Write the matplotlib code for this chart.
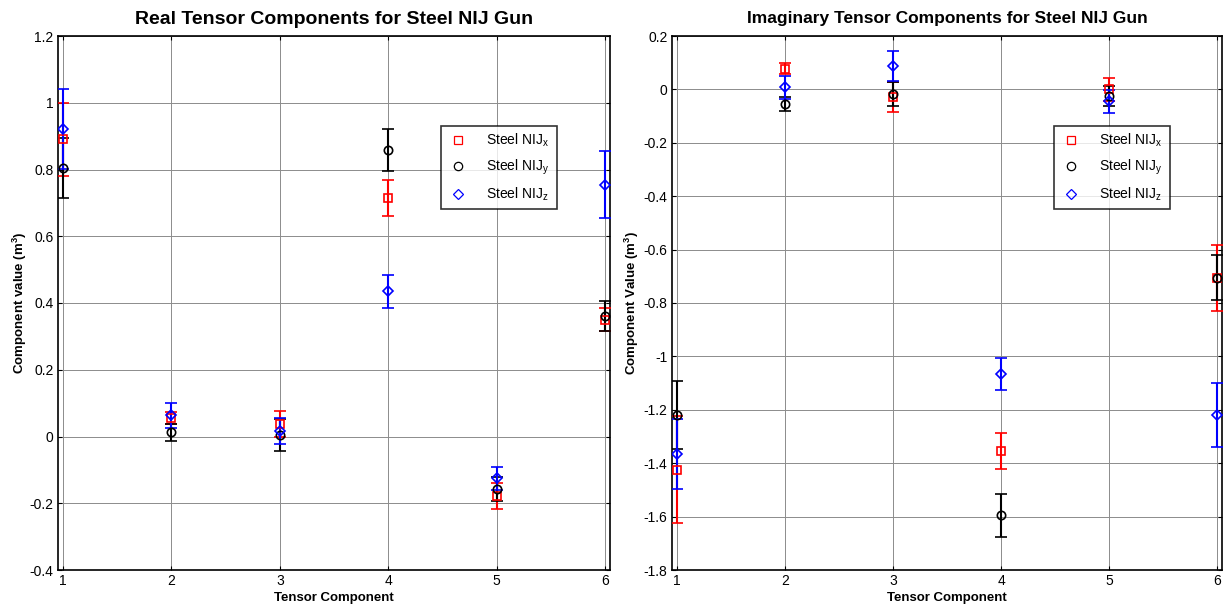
import matplotlib
matplotlib.use("Agg")
import matplotlib.pyplot as plt
from matplotlib.ticker import FuncFormatter
from matplotlib.lines import Line2D

plt.rcParams['font.family'] = ['Liberation Sans', 'DejaVu Sans']
plt.rcParams['mathtext.default'] = 'regular'

components = [1, 2, 3, 4, 5, 6]

# Real parts
real_x = [0.89, 0.055, 0.037, 0.715, -0.178, 0.35]
real_x_err = [0.11, 0.017, 0.038, 0.054, 0.039, 0.035]
real_y = [0.805, 0.012, 0.005, 0.858, -0.157, 0.36]
real_y_err = [0.09, 0.024, 0.047, 0.062, 0.037, 0.045]
real_z = [0.922, 0.063, 0.017, 0.435, -0.125, 0.755]
real_z_err = [0.12, 0.038, 0.038, 0.05, 0.035, 0.10]

# Imaginary parts
imag_x = [-1.425, 0.078, -0.028, -1.355, 0.0, -0.707]
imag_x_err = [0.20, 0.022, 0.057, 0.068, 0.042, 0.123]
imag_y = [-1.22, -0.055, -0.018, -1.595, -0.024, -0.705]
imag_y_err = [0.127, 0.027, 0.044, 0.081, 0.037, 0.083]
imag_z = [-1.365, 0.008, 0.088, -1.065, -0.045, -1.22]
imag_z_err = [0.13, 0.043, 0.056, 0.06, 0.043, 0.12]

labels = ['Steel NIJ$_x$', 'Steel NIJ$_y$', 'Steel NIJ$_z$']

fig = plt.figure(figsize=(12.29, 6.10), dpi=100)
ax1 = fig.add_axes([57.6 / 1229, 1 - 570 / 610, 552.8 / 1229, 534 / 610])
ax2 = fig.add_axes([671.6 / 1229, 1 - 570 / 610, 550.8 / 1229, 534 / 610])

fmt = FuncFormatter(lambda v, p: '%g' % round(v, 6))


def draw(ax, xs, series, title, title_size, ylabel, ylabelpad, ylim, yticks):
    styles = [('s', 'red'), ('o', 'black'), ('D', 'blue')]
    for (vals, errs), (mk, col), lab in zip(series, styles, labels):
        ms = 5 if mk == 'D' else 6
        ax.errorbar(xs, vals, yerr=errs, fmt=mk, mfc='none', mec=col,
                    ecolor=col, color=col, ms=ms, mew=1.2,
                    elinewidth=1.5, capsize=4, capthick=1.5,
                    label=lab, zorder=3)
    ax.set_xlim(0.95, 6.05)
    ax.set_ylim(*ylim)
    ax.set_xticks(xs)
    ax.set_yticks(yticks)
    ax.yaxis.set_major_formatter(fmt)
    ax.grid(True, color='0.55', lw=0.7)
    ax.set_axisbelow(True)
    ax.tick_params(direction='in', length=3, top=True, right=True,
                   labelsize=10, width=0.8, pad=3)
    for s in ax.spines.values():
        s.set_linewidth(1.2)
    ax.set_title(title, fontsize=title_size, fontweight='bold', pad=9)
    ax.set_xlabel('Tensor Component', fontsize=9.5, fontweight='bold', labelpad=3)
    ax.set_ylabel(ylabel, fontsize=9.5, fontweight='bold', labelpad=ylabelpad)
    lh = [Line2D([], [], ls='none', marker=mk, mfc='none', mec=col,
                 ms=(5 if mk == 'D' else 6), mew=0.9)
          for mk, col in styles]
    leg = ax.legend(lh, labels, loc='lower left',
                    bbox_to_anchor=(0.694, 0.676, 0.21, 0.152), mode='expand',
                    fontsize=10, frameon=True, fancybox=False,
                    edgecolor='black', borderpad=0.45, labelspacing=0.6,
                    handlelength=1.5, handletextpad=1.3, borderaxespad=0)
    leg.get_frame().set_linewidth(1.2)


draw(ax1, components,
     [(real_x, real_x_err), (real_y, real_y_err), (real_z, real_z_err)],
     'Real Tensor Components for Steel NIJ Gun', 14, 'Component value (m$^3$)', 0,
     (-0.4, 1.2), [-0.4, -0.2, 0, 0.2, 0.4, 0.6, 0.8, 1.0, 1.2])
draw(ax2, components,
     [(imag_x, imag_x_err), (imag_y, imag_y_err), (imag_z, imag_z_err)],
     'Imaginary Tensor Components for Steel NIJ Gun', 12.5, 'Component Value (m$^3$)', 2,
     (-1.8, 0.2), [-1.8, -1.6, -1.4, -1.2, -1.0, -0.8, -0.6, -0.4, -0.2, 0, 0.2])

fig.savefig('out.png', dpi=100)
